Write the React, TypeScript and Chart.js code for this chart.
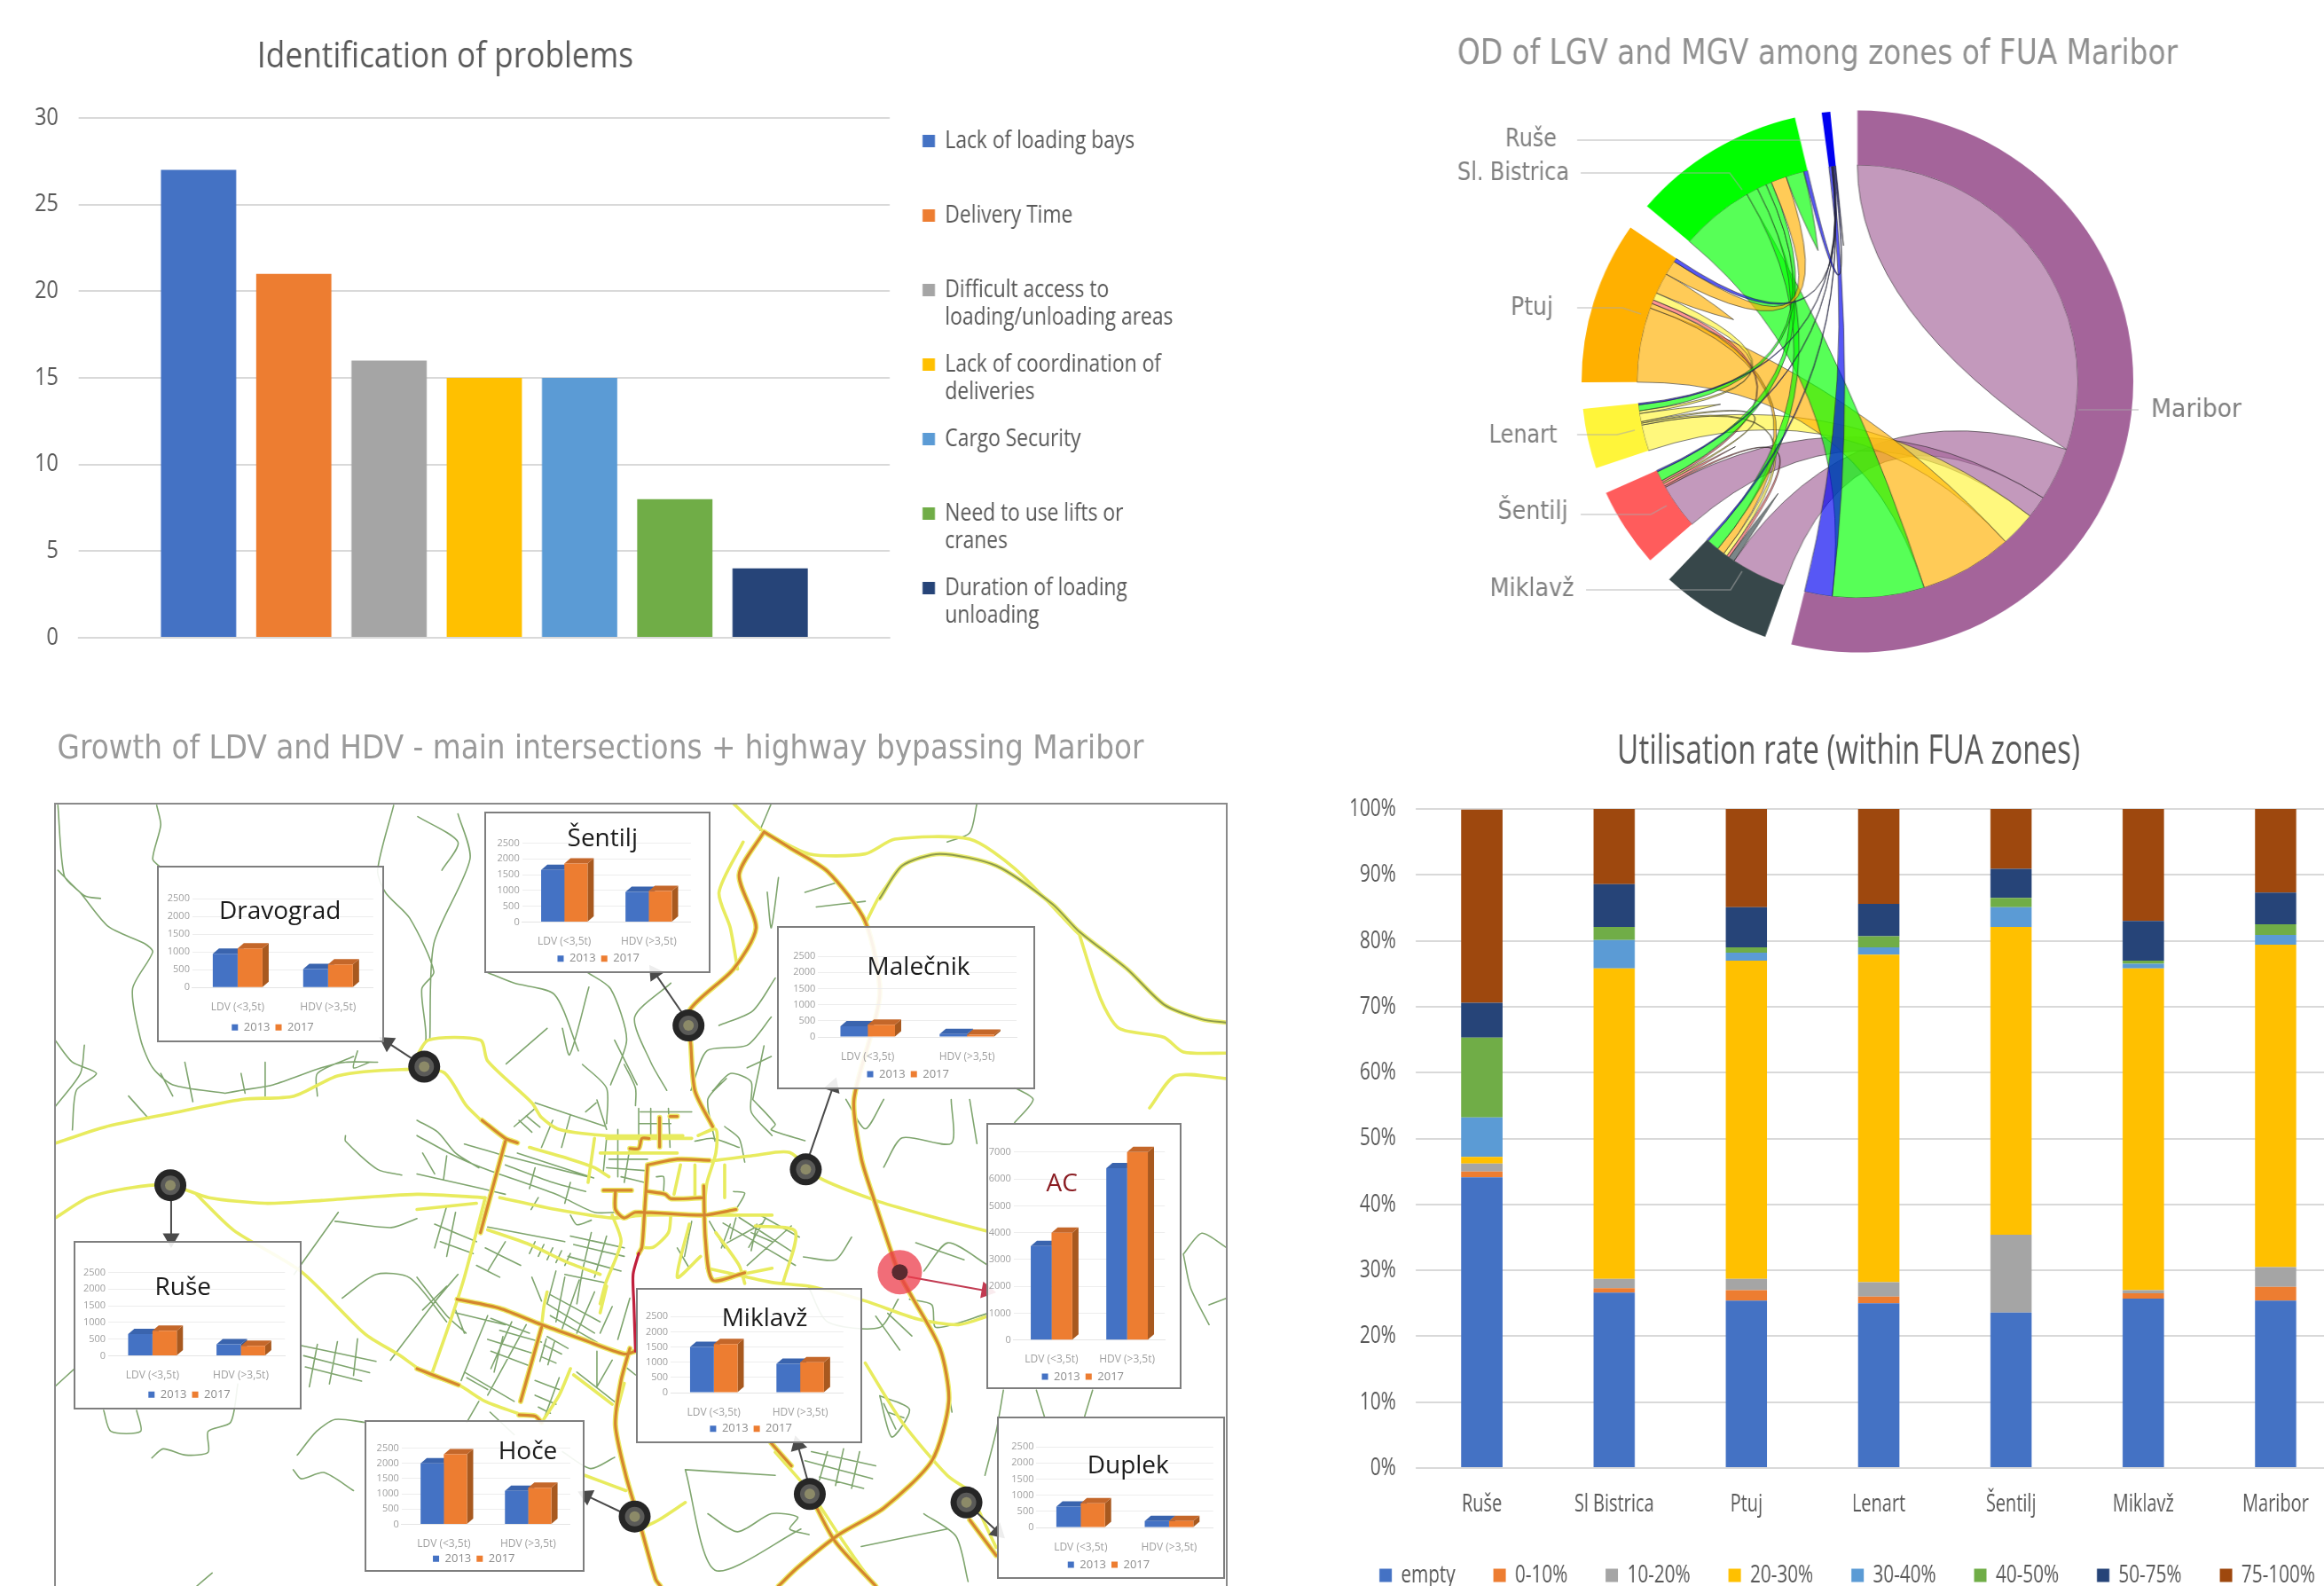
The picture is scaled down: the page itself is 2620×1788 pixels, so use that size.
import React, { useEffect, useRef } from "react";
import { Chart, registerables } from "chart.js";
Chart.register(...registerables);

/* ---------- DATA ---------- */
const problemLabels = [
  ["Lack of loading bays", " "],
  ["Delivery Time", " "],
  ["Difficult access to", "loading/unloading areas"],
  ["Lack of coordination of", "deliveries"],
  ["Cargo Security", " "],
  ["Need to use lifts or", "cranes"],
  ["Duration of loading", "unloading"],
];
const problemValues = [27, 21, 16, 15, 15, 8, 4];
const officeColors = ["#4472C4", "#ED7D31", "#A5A5A5", "#FFC000", "#5B9BD5", "#70AD47", "#264478", "#9E480E"];

const zoneNames = ["Maribor", "Miklavž", "Šentilj", "Lenart", "Ptuj", "Sl. Bistrica", "Ruše"];
const flowMaribor = [108.3, 14.2, 5.9, 9.3, 24.6, 24.2, 7.3];
const flowMiklavz = [14.5, 1.6, 0.7, 1, 2, 3.2, 0.5];
const flowSentilj = [12, 0.4, 0.7, 0.4, 0.5, 2.6, 0.4];
const flowLenart = [7, 0.5, 0.4, 2.2, 0.7, 1.6, 0.4];
const flowPtuj = [20, 1.3, 1, 2, 5.6, 3.9, 1];
const flowBistrica = [19.6, 3.1, 2.5, 1.5, 4.1, 4.8, 1];
const flowRuse = [0.7, 0.15, 0.1, 0.15, 0.2, 0.3, 0.2];
const flowMatrix = [flowMaribor, flowMiklavz, flowSentilj, flowLenart, flowPtuj, flowBistrica, flowRuse];
const zoneGap = 5.65;
const zoneColors = ["#A4649A", "#37474A", "#FF5C5C", "#FFF53A", "#FFB000", "#00FF00", "#0000F0"];

const utilZones = ["Ruše", "Sl Bistrica", "Ptuj", "Lenart", "Šentilj", "Miklavž", "Maribor"];
const utilNames = ["empty", "0-10%", "10-20%", "20-30%", "30-40%", "40-50%", "50-75%", "75-100%"];
const utilEmpty = [44.1, 26.6, 25.4, 25.0, 23.6, 25.7, 25.4];
const util0to10 = [0.9, 0.7, 1.6, 1.0, 0, 0.8, 2.1];
const util10to20 = [1.2, 1.4, 1.7, 2.2, 11.8, 0.5, 3.0];
const util20to30 = [1.0, 47.1, 48.3, 49.7, 46.7, 48.8, 48.9];
const util30to40 = [6.0, 4.3, 1.2, 1.1, 3.0, 0.7, 1.5];
const util40to50 = [12.1, 2.0, 0.8, 1.7, 1.4, 0.5, 1.6];
const util50to75 = [5.3, 6.5, 6.1, 4.9, 4.4, 6.0, 4.8];
const util75to100 = [29.3, 11.4, 14.9, 14.4, 9.1, 17.0, 12.7];
const utilSeries = [utilEmpty, util0to10, util10to20, util20to30, util30to40, util40to50, util50to75, util75to100];

const vehicleLabels = ["LDV (<3,5t)", "HDV (>3,5t)"];
const yearLabels = ["2013", "2017"];
const insetNames = ["Dravograd", "Šentilj", "Malečnik", "AC", "Ruše", "Miklavž", "Hoče", "Duplek"];
const values2013 = [[950, 520], [1650, 950], [330, 90], [3500, 6400], [650, 350], [1500, 950], [2000, 1100], [650, 200]];
const values2017 = [[1100, 650], [1850, 980], [380, 70], [4000, 7000], [750, 300], [1600, 1000], [2300, 1200], [750, 200]];
const insetMax = [2500, 2500, 2500, 7000, 2500, 2500, 2500, 2500];

/* map polylines, x,y pairs in map units */
const roadsYellow = [
  [68,784,130,755,208,732,301,706,366,700,421,664,500,653,552,658,580,716,598,742],
  [515,640,533,601,598,601,607,638,662,712,674,738,696,759,754,770,850,770],
  [70,915,110,880,165,862,212,858,260,880,330,890,400,885,519,874,604,880],
  [622,880,692,901,762,916,802,911,887,911,961,911],
  [885,815,940,805,983,800,1020,845,1090,885,1150,910,1230,940],
  [245,875,291,938,375,1011,454,1121,496,1158,533,1194,571,1212,604,1241,644,1262],
  [604,880,578,1021,559,1105,537,1194],
  [951,232,1007,271,1077,271,1114,245,1207,245,1263,297,1342,412],
  [1342,407,1370,528,1393,580,1449,596,1473,622,1527,624],
  [1527,669,1463,664,1431,721],
  [913,182,951,232,975,250],
  [925,250,895,339,909,402,918,475],
  [1077,395,1095,345,1123,292],
  [659,791,710,812,740,827,758,843],
  [740,775,732,853],[755,775,861,775],[747,801,843,801],
  [519,901,593,890],
  [607,937,659,963,707,995,747,1016],
  [762,911,773,958,754,1031,747,1068],
  [869,770,891,759,891,801,880,853,876,906],
  [847,822,839,874],[865,822,865,880],[902,822,902,880],
  [835,911,832,942,813,968,799,968],
  [858,927,843,1021,872,984],
  [891,942,920,1000,927,1032],
  [887,1026,961,1005],
  [880,1005,960,1030,1007,1037,1077,1063,1142,1095,1193,1105,1230,1090],
  [674,1110,677,1073,681,1047],[755,1037,747,1084],
  [714,1194,762,1246],[710,1183,696,1230,677,1272],[777,1209,766,1267],
  [728,1372,779,1399],[797,1467,820,1451,853,1420],
  [965,1331,1010,1405,1049,1488,1072,1535,1090,1568],
  [1077,1173,1123,1278,1179,1372,1207,1399],
  [1207,1400,1240,1500],
  [940,930,990,940,975,1030],
];
const roadsOrange = [
  [600,743,629,775,644,783],[629,780,598,942],
  [569,1060,622,1076,674,1105,725,1131,777,1157,791,1152],
  [674,1110,648,1241],
  [951,232,920,308,941,402,913,475,858,549,860,611,865,691,887,754],
  [951,232,983,260,1030,302,1077,391,1095,522,1063,706,1072,810,1086,875,1118,1011,1132,1048,1170,1147,1181,1241,1160,1346,1100,1430,1044,1477,993,1535,969,1568],
  [806,822,843,812,883,814],[806,822,802,911,799,968,795,979],
  [784,793,795,793,799,775,808,775],[834,736,843,736],[821,738,821,790],
  [751,867,786,867],[766,869,766,901,777,916,791,906,876,911,916,901],
  [806,869,828,874,835,882,876,880],[876,859,878,953,887,1026,927,1013],
  [784,1147,773,1204,766,1283,779,1372,793,1440,816,1556,822,1568],
  [1008,1405,1039,1488,1090,1568],[960,1315,985,1355],[1207,1451,1240,1514],
  [519,1183,571,1212],[646,1265,666,1267,674,1278],
];
const roadsOlive = [[1095,350,1123,292,1170,271,1240,292,1310,360,1342,407,1403,475,1449,538,1496,564,1527,570]];
const roadsRed = [[795,979,788,1016,789,1068,791,1152]];
const roadsGreen = [
  [72,185,80,310,100,340,135,400,180,430,190,445,165,510,175,600,190,650,215,680,280,695],
  [195,185,200,220,190,280,200,295],[72,300,105,345,125,350],
  [490,185,470,300,480,340,510,385,540,480,525,510,530,600,515,640],
  [570,200,585,280,540,430,535,600],[520,205,570,250,550,300],
  [68,600,90,640,120,660,95,690,90,760],[105,610,100,660,68,720],
  [330,640,330,700],[230,640,240,710],[280,695,300,690,340,680,400,650,430,640,470,640],
  [445,620,440,650,460,640],[160,700,185,740],[200,660,215,700],[300,660,305,695],
  [430,770,430,780,470,830,500,840],[395,700,395,660,440,630],
  [630,643,681,580],[700,580,709,627,733,507],[765,601,793,680],
  [605,480,640,500,690,520,720,620],[730,480,760,510,780,600,760,680],
  [835,500,790,560,810,640,830,690],[860,690,880,620,930,610,960,560],[960,630,930,650],
  [955,339,960,402,969,313],[1002,339,1039,323],[1016,365,1077,355],
  [895,575,937,549,965,491],[937,706,951,611],[937,706,965,750,960,760,1002,779],
  [904,669,881,706,890,780],[1263,685,1286,706,1263,747],[1053,706,1077,758,1100,706],
  [1184,706,1184,784,1123,774,1100,826],[1207,706,1216,784],
  [1216,182,1207,234,1179,250],[960,182,946,229],
  [1473,980,1496,943,1527,969],[1473,980,1482,1040,1505,1105],[1527,1058,1505,1070],
  [1249,1221,1240,1294,1226,1372],[1180,1221,1185,1260],[1290,1221,1300,1268],[1360,1221,1350,1268],
  [853,1362,965,1372],[853,1362,890,1540,997,1467],[881,1440,918,1472,960,1440,993,1446,983,1467,1007,1477],
  [1072,1498,1179,1467],[1150,1440,1190,1480,1205,1560],
  [370,1336,394,1294,417,1273,454,1278],[365,1362,375,1378,403,1367,440,1399],
  [189,1341,203,1325,231,1336,259,1331,259,1294,287,1278,296,1210],
  [68,1215,92,1184],[129,1257,138,1294,175,1294,170,1257],[245,1568,264,1545],
  [366,1016,421,906],[417,922,487,933,519,917],[426,1058,468,1016,510,1022,556,1100],
  [486,1168,542,1063,570,1016],[610,1260,640,1300],[700,1330,735,1360,765,1340],
  [1118,1060,1095,1110,1030,1100,1007,1040],[1132,1060,1160,1070,1165,1110,1230,1085],
  [1150,1010,1180,960,1230,1000],[1140,960,1200,990],[1060,950,1040,990,1000,985],
  // northern city
  [640,754,666,722],[646,743,662,764],[655,735,672,755],[666,712,754,754],[743,707,755,759],[729,728,742,712],
  [710,733,699,791],[688,743,674,791],[578,785,629,806,732,843],
  [519,770,559,801,600,827,692,874,740,906,766,906],[519,838,600,864,629,874],
  [629,822,688,853,729,869],[644,801,739,845],[755,775,751,833],[769,759,769,843],[784,791,777,853],
  [795,722,795,791],[810,722,810,770],[832,722,834,791],[795,749,835,749],[797,728,861,728],
  [758,812,806,812],[755,827,802,832],[773,843,802,853],[817,843,826,843,826,869],
  [710,853,703,890],[666,827,659,864],[670,880,661,901],[710,911,718,928,736,920],
  [607,932,703,958],
  // western and southern city
  [556,895,541,969],[567,906,556,984],[541,927,593,958],[548,958,589,979],
  [604,969,648,1000],[593,1000,622,1021],[629,958,607,1010],
  [666,958,659,979],[677,963,670,984],[688,969,681,990],[699,974,692,995],[710,979,703,1000],
  [710,948,777,969],[714,963,777,984],[707,984,773,1010],[703,1016,754,1031],
  [736,942,725,1010,718,1068],[755,948,740,1021],[692,1010,681,1068],
  [843,969,858,1005],[861,922,852,984],[883,922,902,969],[909,927,898,969],[916,916,909,953],
  [942,927,935,974],[953,916,932,968],[935,942,961,958],
  [519,743,545,764,567,801,596,827],[725,644,755,686,755,749],[777,644,791,686,791,717],
  [887,691,909,660,935,675,935,728,961,770],[865,780,887,775,920,791],[902,754,920,775,927,817],
  [913,869,927,872,916,901],[526,801,541,838],[556,806,552,848],
  [567,1079,578,1120],[567,1084,629,1105],[611,1094,659,1120],[607,1089,574,1204],
  [622,1115,674,1136],[607,1131,666,1157],[611,1152,659,1178],[655,1105,607,1230],[637,1100,611,1183],[626,1126,615,1189],
  [578,1189,640,1241],[581,1199,607,1220],[681,1126,707,1147],[677,1141,699,1157],[674,1162,692,1173],[680,1130,672,1170],[690,1136,682,1176],
  [666,1204,696,1220],[666,1230,692,1246],[670,1251,685,1262],[696,1199,677,1272],
  [685,1052,747,1100],[681,1068,740,1120],[685,1089,743,1136],[703,1021,692,1100],[721,1026,699,1115],[740,1047,718,1120],[762,1073,747,1120],[784,1058,769,1131],
  [519,1021,556,1089,580,1120],[556,1037,526,1079],[662,1021,674,1063],[596,1241,581,1278],
  [743,1152,743,1215],[762,1168,743,1215],[718,1189,769,1246],[777,1178,791,1194],
  // suburbs
  [900,925,990,1000],[920,915,985,975],[945,910,995,950],[905,960,950,925],[930,1000,985,930],
  [375,1142,468,1170],[378,1160,460,1190],[380,1180,450,1205],[395,1140,385,1215],[420,1135,410,1210],[445,1130,440,1195],
  [1002,1346,1086,1378],[1010,1330,1090,1355],[1020,1375,1075,1395],[1030,1330,1020,1380],[1050,1325,1040,1390],[1070,1330,1060,1395],
  [1095,1231,1132,1255,1110,1304,1095,1231],[1105,1260,1125,1270],[1100,1245,1115,1290],
  [1090,1090,1120,1150],[1105,1085,1135,1125],
];

/* marker positions in the same map units */
const tirePointsX = [528, 857, 1003, 212, 790, 1008, 1203];
const tirePointsY = [648, 575, 830, 858, 1445, 1405, 1420];
const hotspotX = [1120];
const hotspotY = [1012];
const arrowLinks = [
  [525,645,482,605],[855,565,815,482],[1005,815,1037,683],[213,870,213,952],
  [1008,1395,993,1318],[785,1445,730,1408],[1210,1430,1242,1472],
];
const arrowHotspot = [[1130,1020,1228,1045]];

/* ---------- LAYOUT ---------- */
const mapU = (u: number) => u / 1.104;
const mapV = (v: number) => 790 + v / 1.571;

const insetBoxes = [
  [197,293,477,603],[604,198,883,481],[968,400,1287,686],[1229,750,1470,1218],
  [93,958,375,1254],[793,1041,1072,1312],[455,1275,727,1540],[1242,1270,1524,1555],
];
const insetPlots = [
  [240,465,350,507],[650,860,252,392],[1018,1265,452,595],[1262,1450,800,1133],
  [135,355,1012,1160],[835,1050,1090,1225],[500,710,1323,1458],[1290,1510,1322,1465],
];
const insetTitles = [
  [349,373],[750,245],[1143,472],[1322,857],[228,1040],[952,1095],[657,1330],[1404,1357],
];
const insetLegends = [
  [340,577],[745,456],[1130,660],[1348,1197],[236,1228],[935,1288],[590,1518],[1380,1530],
];

const chordLabels = [
  { z: 0, cx: 2476, cy: 463, w: 102, path: [2411,462,2343,462] },
  { z: 1, cx: 1727, cy: 665, w: 95, path: [1788,665,1951,665,1964,644] },
  { z: 2, cx: 1728, cy: 578, w: 79, path: [1782,580,1861,580,1879,570] },
  { z: 3, cx: 1717, cy: 492, w: 77, path: [1778,490,1823,490,1843,485] },
  { z: 4, cx: 1727, cy: 348, w: 48, path: [1778,347,1829,347,1850,354] },
  { z: 5, cx: 1706, cy: 196, w: 126, path: [1782,195,1950,195,1964,214] },
  { z: 6, cx: 1726, cy: 158, w: 58, path: [1778,158,2057,158] },
];

/* ---------- HELPERS ---------- */
function fitArea(chart: any, t: { left: number; right: number; top: number; bottom: number }) {
  for (let i = 0; i < 3; i++) {
    const a = chart.chartArea;
    const p = chart.options.layout.padding;
    chart.options.layout.padding = {
      left: p.left + (t.left - a.left),
      right: p.right + (a.right - t.right),
      top: p.top + (t.top - a.top),
      bottom: p.bottom + (a.bottom - t.bottom),
    };
    chart.update();
  }
}
function placeTitle(chart: any, cx: number, cy: number) {
  const t = chart.titleBlock;
  const lh = t.options.font.size * 1.2;
  t.left = cx - 900;
  t.right = cx + 900;
  t.top = cy - lh / 2;
  t.bottom = t.top + lh;
}
function fitText(ctx: any, text: string, cx: number, cy: number, w: number, font: string, color: string) {
  ctx.save();
  ctx.font = font;
  ctx.fillStyle = color;
  ctx.textAlign = "center";
  ctx.textBaseline = "middle";
  const m = ctx.measureText(text).width;
  ctx.translate(cx, cy);
  ctx.scale(w / m, 1);
  ctx.fillText(text, 0, 0);
  ctx.restore();
}
function toPoints(lines: number[][]) {
  const out: any[] = [];
  lines.forEach((l) => {
    for (let i = 0; i < l.length; i += 2) out.push({ x: l[i], y: l[i + 1] });
    out.push({ x: NaN, y: NaN });
  });
  return out;
}
function shade(hex: string, a: number) {
  const n = parseInt(hex.slice(1), 16);
  return `rgba(${(n >> 16) & 255},${(n >> 8) & 255},${n & 255},${a})`;
}

function ChartBox({ left, top, width, height, scale = 1, blur = 0, make }: any) {
  const ref = useRef<HTMLCanvasElement>(null);
  useEffect(() => {
    const chart = make(ref.current);
    return () => chart.destroy();
  }, []);
  return (
    <canvas
      ref={ref}
      width={width}
      height={height}
      style={{
        position: "absolute",
        left,
        top,
        width,
        height,
        transformOrigin: "0 0",
        transform: scale === 1 ? undefined : `scaleX(${scale})`,
        filter: blur ? `blur(${blur}px)` : undefined,
      }}
    />
  );
}

/* ---------- PANEL A ---------- */
const SA = 0.86;
function makeProblems(canvas: HTMLCanvasElement) {
  const chart: any = new Chart(canvas, {
    type: "bar",
    data: {
      labels: [""],
      datasets: problemValues.map((v, i) => ({
        label: problemLabels[i].join(" ").trim(),
        data: [v],
        backgroundColor: officeColors[i],
        barPercentage: 0.79,
        categoryPercentage: 0.8225,
      })),
    },
    options: {
      animation: false,
      responsive: false,
      devicePixelRatio: 1,
      layout: { padding: { left: 0, right: 0, top: 0, bottom: 0 } },
      plugins: {
        title: {
          display: true,
          text: "Identification of problems",
          color: "#595959",
          padding: 0,
          font: { family: "'Open Sans'", size: 41, weight: "normal" },
        },
        tooltip: { enabled: false },
        legend: {
          position: "right",
          align: "start",
          labels: {
            boxWidth: 14 / SA,
            boxHeight: 14,
            padding: 22,
            color: "#595959",
            font: { family: "'Open Sans'", size: 26.5, lineHeight: 1.17 },
            generateLabels: (c: any) =>
              c.data.datasets.map((d: any, i: number) => ({
                text: problemLabels[i],
                fillStyle: d.backgroundColor,
                strokeStyle: d.backgroundColor,
                fontColor: "#595959",
                lineWidth: 0,
                hidden: false,
                datasetIndex: i,
              })),
          },
        },
      },
      scales: {
        x: { grid: { display: false }, border: { color: "#D9D9D9", width: 2 }, ticks: { display: false } },
        y: {
          min: 0,
          max: 30,
          ticks: { stepSize: 5, padding: 27, color: "#595959", font: { family: "'Open Sans'", size: 27 } },
          grid: { color: "#D9D9D9", lineWidth: 2, drawTicks: false },
          border: { display: false },
        },
      },
    },
    plugins: [
      {
        id: "placeA",
        afterLayout(c: any) {
          placeTitle(c, 502 / SA, 64);
          const l = c.legend;
          const f = 26.5;
          const dx = 1040 / SA - 22 - l.left;
          l.left += dx;
          l.right += dx;
          const t = 159 - 22 - f / 2 - l.top;
          l.top += t;
          l.bottom += t + 200;
        },
      },
    ],
  } as any);
  fitArea(chart, { left: 89 / SA, right: 1003 / SA, top: 133, bottom: 719 });
  return chart;
}

/* ---------- PANEL B ---------- */
const B_LEFT = 1560;
const SB = 311 / 305.5;
function makeChord(canvas: HTMLCanvasElement) {
  const totals = flowMatrix.map((r) => r.reduce((a, b) => a + b, 0));
  const ring: number[] = [];
  const ringColors: string[] = [];
  totals.forEach((t, i) => {
    ring.push(t, zoneGap);
    ringColors.push(zoneColors[i], "rgba(0,0,0,0)");
  });
  const chart: any = new Chart(canvas, {
    type: "doughnut",
    data: {
      labels: zoneNames.flatMap((z) => [z, ""]),
      datasets: [{ data: ring, backgroundColor: ringColors, borderWidth: 0 }],
    },
    options: {
      animation: false,
      responsive: false,
      devicePixelRatio: 1,
      cutout: "79.9%",
      layout: { padding: { left: 0, right: 0, top: 0, bottom: 0 } },
      plugins: { legend: { display: false }, tooltip: { enabled: false }, title: { display: false } },
    },
    plugins: [
      {
        id: "ribbons",
        beforeDatasetsDraw(c: any) {
          const meta = c.getDatasetMeta(0);
          const first = meta.data[0];
          if (!first) return;
          const { x: cx, y: cy, innerRadius: r } = first.getProps(["x", "y", "innerRadius"], true);
          const ctx = c.ctx;
          const ends: number[][][] = flowMatrix.map((row, i) => {
            const el = meta.data[i * 2];
            const per = (el.endAngle - el.startAngle) / totals[i];
            let a = el.startAngle;
            return row.map((v) => {
              const s = [a, a + v * per];
              a += v * per;
              return s;
            });
          });
          const pt = (a: number, k = 1) => [cx + Math.cos(a) * r * k, cy + Math.sin(a) * r * k];
          ctx.save();
          ctx.lineWidth = 1;
          ctx.strokeStyle = "rgba(40,40,40,0.6)";
          for (let i = 0; i < zoneNames.length; i++) {
            for (let j = i; j < zoneNames.length; j++) {
              const [s0, s1] = ends[i][j];
              const [t0, t1] = ends[j][i];
              const owner = flowMatrix[i][j] < flowMatrix[j][i] ? i : j;
              ctx.fillStyle = shade(zoneColors[owner], 0.66);
              ctx.beginPath();
              ctx.arc(cx, cy, r, s0, s1);
              if (i === j) {
                if (s1 - s0 > 0.5) {
                  const k = pt(s0, 0.32);
                  const e = pt(s0);
                  ctx.quadraticCurveTo(k[0], k[1], e[0], e[1]);
                } else {
                  const mid = (s0 + s1) / 2;
                  const tip = pt(mid, 0.63);
                  const k1 = pt(s1, 0.82);
                  const k0 = pt(s0, 0.82);
                  const e = pt(s0);
                  ctx.quadraticCurveTo(k1[0], k1[1], tip[0], tip[1]);
                  ctx.quadraticCurveTo(k0[0], k0[1], e[0], e[1]);
                }
              } else {
                const a = pt(t0);
                ctx.quadraticCurveTo(cx, cy, a[0], a[1]);
                ctx.arc(cx, cy, r, t0, t1);
                const b = pt(s0);
                ctx.quadraticCurveTo(cx, cy, b[0], b[1]);
              }
              ctx.closePath();
              ctx.fill();
              ctx.stroke();
            }
          }
          ctx.restore();
        },
        afterDraw(c: any) {
          const ctx = c.ctx;
          ctx.save();
          ctx.scale(1 / SB, 1);
          ctx.translate(-B_LEFT, 0);
          ctx.strokeStyle = "rgba(170,170,170,0.55)";
          ctx.lineWidth = 1.5;
          chordLabels.forEach((l) => {
            ctx.beginPath();
            ctx.moveTo(l.path[0], l.path[1]);
            for (let i = 2; i < l.path.length; i += 2) ctx.lineTo(l.path[i], l.path[i + 1]);
            ctx.stroke();
            fitText(ctx, zoneNames[l.z], l.cx, l.cy, l.w, "28px 'DejaVu Sans'", "#7F7F7F");
          });
          fitText(ctx, "OD of LGV and MGV among zones of FUA Maribor", 2049, 62, 812, "39px 'DejaVu Sans'", "#8F8F8F");
          ctx.restore();
        },
      },
    ],
  } as any);
  const mid = (2094 - B_LEFT) / SB;
  fitArea(chart, { left: mid - 305.5, right: mid + 305.5, top: 124.5, bottom: 735.5 });
  return chart;
}

/* ---------- PANEL C ---------- */
function lineSet(lines: number[][], color: string, width: number) {
  return {
    type: "scatter",
    showLine: true,
    data: toPoints(lines),
    borderColor: color,
    borderWidth: width,
    pointRadius: 0,
    spanGaps: false,
    tension: 0.25,
    borderCapStyle: "round",
    borderJoinStyle: "round",
  };
}
function dotSet(xs: number[], ys: number[], color: string, r: number) {
  return {
    type: "scatter",
    data: xs.map((x, i) => ({ x, y: ys[i] })),
    backgroundColor: color,
    borderWidth: 0,
    pointRadius: r,
    showLine: false,
  };
}
function arrowSet(a: number[], color: string) {
  const sx = 1 / 1.104;
  const sy = 1 / 1.571;
  const rot = (Math.atan2((a[2] - a[0]) * sx, -(a[3] - a[1]) * sy) * 180) / Math.PI;
  return {
    type: "scatter",
    showLine: true,
    data: [{ x: a[0], y: a[1] }, { x: a[2], y: a[3] }],
    borderColor: color,
    borderWidth: 2,
    backgroundColor: color,
    pointBackgroundColor: color,
    pointBorderColor: color,
    pointStyle: "triangle",
    pointRotation: rot,
    pointRadius: [0, 9],
  };
}
function makeMap(canvas: HTMLCanvasElement) {
  const layers: any[] = [
    lineSet(roadsGreen, "#7FA56E", 1.6),
    lineSet(roadsYellow, "#E8EB5E", 3.6),
    lineSet(roadsOrange, "#ECEB66", 6),
    lineSet(roadsOlive, "#E9EC70", 5),
    lineSet(roadsOlive, "#8E9A4A", 2),
    lineSet(roadsOrange, "#D5862E", 3.2),
    lineSet(roadsRed, "#C01F3C", 3.2),
    ...arrowLinks.map((a) => arrowSet(a, "#4A4A4A")),
    ...arrowHotspot.map((a) => arrowSet(a, "#C23B52")),
    dotSet(hotspotX, hotspotY, "rgba(236,60,75,0.75)", 25),
    dotSet(hotspotX, hotspotY, "#5A2A30", 9),
    dotSet(tirePointsX, tirePointsY, "#262626", 18),
    dotSet(tirePointsX, tirePointsY, "#5A5A58", 11),
    dotSet(tirePointsX, tirePointsY, "#8C8A68", 6),
  ];
  layers.forEach((d, i) => (d.order = layers.length - i));
  const chart: any = new Chart(canvas, {
    type: "scatter",
    data: { datasets: layers },
    options: {
      animation: false,
      responsive: false,
      devicePixelRatio: 1,
      layout: { autoPadding: false, padding: { left: 0, right: 0, top: 0, bottom: 0 } },
      plugins: { legend: { display: false }, tooltip: { enabled: false }, title: { display: false } },
      scales: {
        x: { type: "linear", min: 68.4, max: 1527, display: false },
        y: { type: "linear", min: 182, max: 1568, reverse: true, display: false },
      },
    },
    plugins: [
      {
        id: "frame",
        afterDraw(c: any) {
          const ctx = c.ctx;
          const a = c.chartArea;
          ctx.save();
          ctx.strokeStyle = "#8A8A8A";
          ctx.lineWidth = 2;
          ctx.beginPath();
          ctx.moveTo(a.left, a.bottom + 4);
          ctx.lineTo(a.left, a.top);
          ctx.lineTo(a.right, a.top);
          ctx.lineTo(a.right, a.bottom + 4);
          ctx.stroke();
          fitText(ctx, "Growth of LDV and HDV - main intersections + highway bypassing Maribor", 677, 45, 1225, "38px 'DejaVu Sans'", "#9A9A9A");
          ctx.restore();
        },
      },
    ],
  } as any);
  fitArea(chart, { left: 62, right: 1383, top: 106, bottom: 988 });
  return chart;
}

/* inset charts of panel C */
const depth3d = {
  id: "depth3d",
  beforeDatasetsDraw(c: any) {
    const ctx = c.ctx;
    const dx = 7;
    const dy = 6;
    const sides = ["#2F5597", "#A8591F"];
    const tops = ["#3A64AE", "#C4672A"];
    ctx.save();
    c.data.datasets.forEach((d: any, i: number) => {
      c.getDatasetMeta(i).data.forEach((b: any) => {
        const hw = b.width / 2;
        ctx.fillStyle = sides[i];
        ctx.beginPath();
        ctx.moveTo(b.x + hw, b.y);
        ctx.lineTo(b.x + hw + dx, b.y - dy);
        ctx.lineTo(b.x + hw + dx, b.base - dy);
        ctx.lineTo(b.x + hw, b.base);
        ctx.closePath();
        ctx.fill();
        ctx.fillStyle = tops[i];
        ctx.beginPath();
        ctx.moveTo(b.x - hw, b.y);
        ctx.lineTo(b.x - hw + dx, b.y - dy);
        ctx.lineTo(b.x + hw + dx, b.y - dy);
        ctx.lineTo(b.x + hw, b.y);
        ctx.closePath();
        ctx.fill();
      });
    });
    ctx.restore();
  },
};
function makeInset(i: number, left: number, top: number) {
  return (canvas: HTMLCanvasElement) => {
    const greyFont = (size: number) => ({ family: "'Open Sans'", size });
    const chart: any = new Chart(canvas, {
      type: "bar",
      data: {
        labels: vehicleLabels,
        datasets: [
          { label: yearLabels[0], data: values2013[i], backgroundColor: "#4472C4", barPercentage: 1, categoryPercentage: 0.55 },
          { label: yearLabels[1], data: values2017[i], backgroundColor: "#ED7D31", barPercentage: 1, categoryPercentage: 0.55 },
        ],
      },
      options: {
        animation: false,
        responsive: false,
        devicePixelRatio: 1,
        layout: { padding: { left: 0, right: 0, top: 0, bottom: 0 } },
        plugins: {
          tooltip: { enabled: false },
          title: {
            display: true,
            text: insetNames[i],
            padding: 0,
            color: insetNames[i] === "AC" ? "#8B1E24" : "#1A1A1A",
            font: { family: "'Open Sans'", size: 28, weight: "normal" },
          },
          legend: {
            position: "bottom",
            labels: { boxWidth: 7, boxHeight: 7, padding: 6, color: "#8C8C8C", font: greyFont(13) },
          },
        },
        scales: {
          x: {
            grid: { display: false },
            border: { color: "#E4E4E4" },
            ticks: { color: "#A0A0A0", padding: 7, font: greyFont(12), maxRotation: 0, autoSkip: false },
          },
          y: {
            min: 0,
            max: insetMax[i],
            ticks: {
              stepSize: insetMax[i] > 5000 ? 1000 : 500,
              color: "#A0A0A0",
              padding: 3,
              font: greyFont(11),
              callback: (v: any) => String(v),
            },
            grid: { color: "#EDEDED", drawTicks: false },
            border: { display: false },
          },
        },
      },
      plugins: [
        depth3d,
        {
          id: "placeInset",
          afterLayout(c: any) {
            placeTitle(c, mapU(insetTitles[i][0]) - left, mapV(insetTitles[i][1]) - top);
            const l = c.legend;
            const dx = mapU(insetLegends[i][0]) - left - (l.left + l.right) / 2;
            l.left += dx;
            l.right += dx;
            const t = mapV(insetLegends[i][1]) - top - 6 - 6 - l.top;
            l.top += t;
            l.bottom += t;
          },
        },
      ],
    } as any);
    const p = insetPlots[i];
    fitArea(chart, {
      left: mapU(p[0]) - left,
      right: mapU(p[1]) - left,
      top: mapV(p[2]) - top,
      bottom: mapV(p[3]) - top,
    });
    return chart;
  };
}
function Inset({ i }: { i: number }) {
  const b = insetBoxes[i];
  const left = mapU(b[0]);
  const top = mapV(b[1]);
  const w = Math.round(mapU(b[2]) - left);
  const h = Math.round(mapV(b[3]) - top);
  return (
    <div
      style={{
        position: "absolute",
        left,
        top,
        width: w,
        height: h,
        background: "rgba(255,255,255,0.9)",
        outline: "2px solid #7E7E7E",
        outlineOffset: -1,
      }}
    >
      <ChartBox left={0} top={0} width={w} height={h} blur={0.5} make={makeInset(i, left, top)} />
    </div>
  );
}

/* ---------- PANEL D ---------- */
const SD = 0.74;
const D_LEFT = 1500;
const D_TOP = 800;
function makeUtil(canvas: HTMLCanvasElement) {
  const ix = (x: number) => (x - D_LEFT) / SD;
  const chart: any = new Chart(canvas, {
    type: "bar",
    data: {
      labels: utilZones,
      datasets: utilSeries.map((s, i) => ({
        label: utilNames[i],
        data: s,
        backgroundColor: officeColors[i],
        barPercentage: 0.312,
        categoryPercentage: 1,
      })),
    },
    options: {
      animation: false,
      responsive: false,
      devicePixelRatio: 1,
      layout: { padding: { left: 0, right: 0, top: 0, bottom: 0 } },
      plugins: {
        tooltip: { enabled: false },
        title: {
          display: true,
          text: "Utilisation rate (within FUA zones)",
          color: "#595959",
          padding: 0,
          font: { family: "'Open Sans'", size: 45, weight: "normal" },
        },
        legend: {
          position: "bottom",
          align: "start",
          labels: {
            boxWidth: 14 / SD,
            boxHeight: 15,
            padding: 58,
            color: "#595959",
            font: { family: "'Open Sans'", size: 28 },
          },
        },
      },
      scales: {
        x: {
          stacked: true,
          grid: { display: false },
          border: { display: false },
          ticks: { color: "#595959", padding: 17, font: { family: "'Open Sans'", size: 27 }, maxRotation: 0, autoSkip: false },
        },
        y: {
          stacked: true,
          min: 0,
          max: 100,
          ticks: {
            stepSize: 10,
            padding: 30,
            color: "#595959",
            font: { family: "'Open Sans'", size: 28 },
            callback: (v: any) => `${v}%`,
          },
          grid: { color: "#D9D9D9", lineWidth: 2, drawTicks: false },
          border: { display: false },
        },
      },
    },
    plugins: [
      {
        id: "placeD",
        afterLayout(c: any) {
          placeTitle(c, ix(2084), 848 - D_TOP);
          const l = c.legend;
          const dx = ix(1555) - 58 - l.left;
          l.left += dx;
          l.right += dx + 300;
          const t = 1776 - D_TOP - 58 - 28 / 2 - l.top;
          l.top += t;
          l.bottom += t;
        },
      },
    ],
  } as any);
  fitArea(chart, { left: ix(1596), right: ix(2640), top: 912 - D_TOP, bottom: 1655 - D_TOP });
  return chart;
}

/* ---------- APP ---------- */
export default function App() {
  return (
    <div style={{ position: "fixed", left: 0, top: 0, width: 2620, height: 1788, overflow: "hidden", background: "#fff" }}>
      <ChartBox left={0} top={0} width={Math.round(1400 / SA)} height={780} scale={SA} make={makeProblems} />
      <ChartBox left={B_LEFT} top={0} width={1060} height={790} scale={SB} make={makeChord} />
      <ChartBox left={0} top={800} width={1400} height={988} blur={0.5} make={makeMap} />
      {insetNames.map((_, i) => (
        <Inset key={i} i={i} />
      ))}
      <ChartBox left={D_LEFT} top={D_TOP} width={Math.round(1240 / SD)} height={988} scale={SD} make={makeUtil} />
    </div>
  );
}
